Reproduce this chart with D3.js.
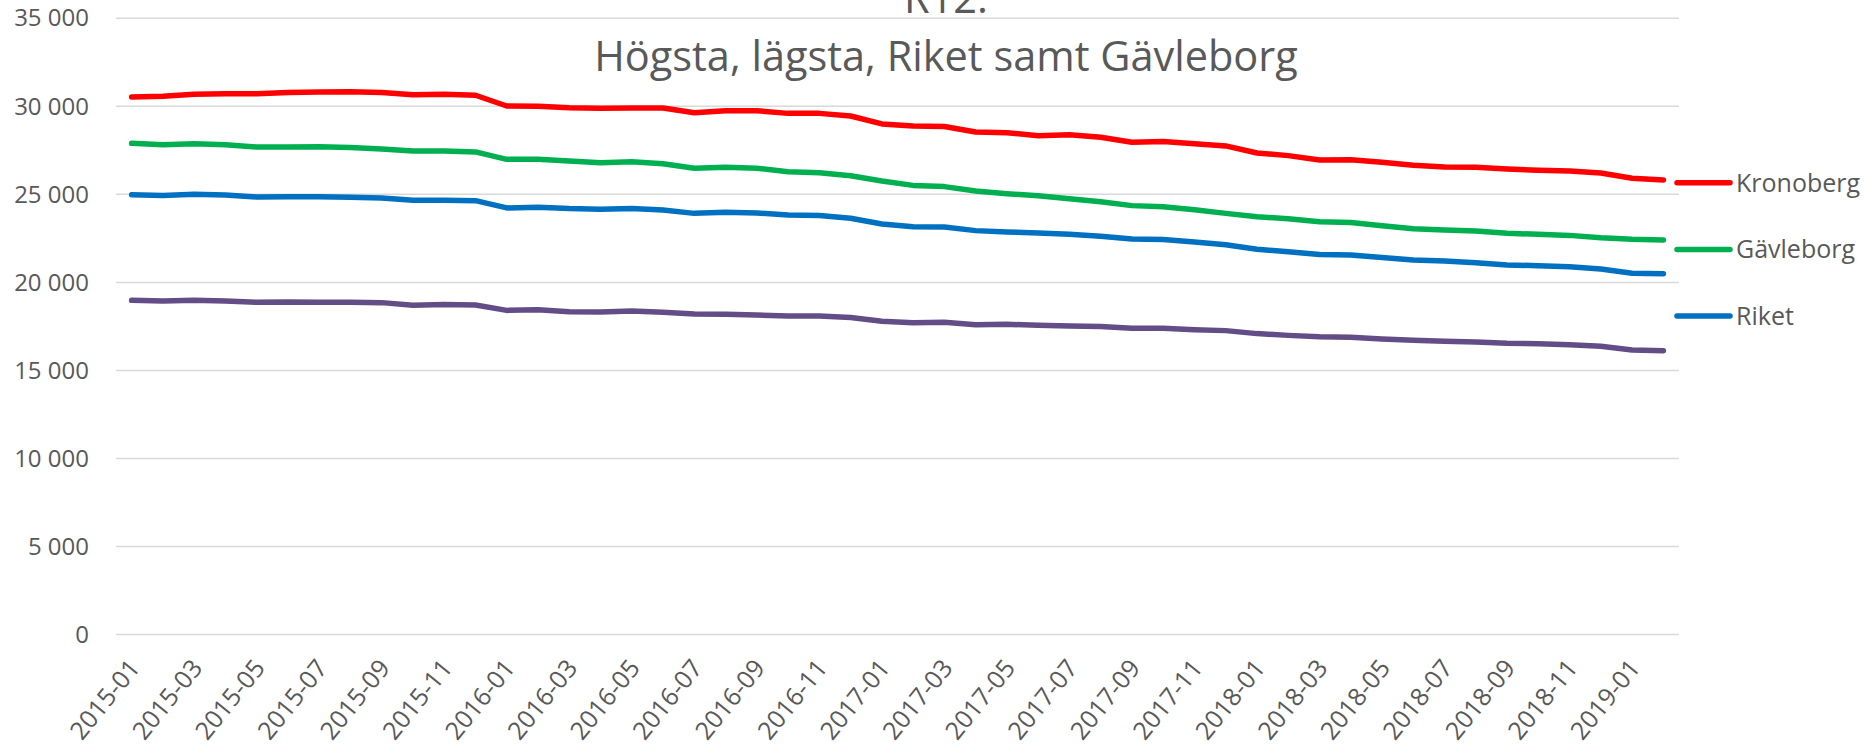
<!DOCTYPE html>
<html>
<head>
<meta charset="utf-8">
<script src="https://cdn.jsdelivr.net/npm/d3@7"></script>
<style>
  html, body { margin: 0; padding: 0; background: #ffffff; }
  svg { display: block; font-family: "Open Sans", sans-serif; }
</style>
</head>
<body>
<svg id="chart" width="1874" height="747"></svg>
<script>
// ---- data ----
const months = [];
for (let y = 2015; y <= 2019; y++) {
  for (let m = 1; m <= 12; m++) {
    if (y === 2019 && m > 2) break;
    months.push(y + "-" + String(m).padStart(2, "0"));
  }
}
const titleLines = ["R12:", "Högsta, lägsta, Riket samt Gävleborg"];
const yTicks = [0, 5000, 10000, 15000, 20000, 25000, 30000, 35000];

const kronoberg = [30530, 30570, 30680, 30720, 30720, 30780, 30810, 30830, 30780, 30660,
  30680, 30630, 30020, 30000, 29920, 29890, 29910, 29910, 29640, 29750,
  29750, 29600, 29600, 29450, 29000, 28880, 28850, 28540, 28500, 28330,
  28380, 28240, 27960, 28000, 27880, 27750, 27350, 27200, 26950, 26960,
  26820, 26650, 26550, 26540, 26440, 26370, 26330, 26210, 25910, 25820];
const gavleborg = [27900, 27820, 27870, 27820, 27690, 27690, 27710, 27660, 27580, 27460,
  27460, 27410, 26990, 26990, 26900, 26800, 26850, 26740, 26480, 26540,
  26480, 26290, 26230, 26060, 25760, 25510, 25440, 25190, 25040, 24920,
  24750, 24580, 24360, 24300, 24130, 23920, 23730, 23620, 23450, 23400,
  23220, 23050, 22980, 22920, 22790, 22730, 22670, 22540, 22450, 22410];
const riket = [24980, 24940, 25000, 24960, 24850, 24870, 24870, 24830, 24790, 24660,
  24660, 24640, 24230, 24270, 24190, 24150, 24190, 24110, 23920, 23980,
  23940, 23830, 23800, 23640, 23320, 23160, 23150, 22940, 22860, 22810,
  22730, 22620, 22470, 22430, 22300, 22140, 21880, 21740, 21590, 21550,
  21410, 21270, 21210, 21120, 20990, 20950, 20890, 20760, 20520, 20490];
const lagsta = [18980, 18940, 18980, 18940, 18870, 18890, 18870, 18870, 18850, 18700,
  18740, 18720, 18410, 18450, 18330, 18320, 18370, 18300, 18200, 18190,
  18150, 18090, 18090, 18000, 17790, 17710, 17730, 17600, 17620, 17560,
  17520, 17500, 17390, 17390, 17310, 17260, 17090, 16990, 16910, 16880,
  16780, 16710, 16650, 16610, 16540, 16520, 16460, 16370, 16160, 16120];

const series = [
  { name: "Kronoberg", values: kronoberg, color: "#ff0000", legend: true },
  { name: "Gävleborg", values: gavleborg, color: "#00b050", legend: true },
  { name: "Riket", values: riket, color: "#0070c0", legend: true },
  { name: "Lägsta", values: lagsta, color: "#634d87", legend: false }
];

// ---- layout ----
const svg = d3.select("#chart");
const plotL = 116, plotR = 1679, plotT = 18.3, plotB = 634.5;

const x = d3.scalePoint().domain(months).range([plotL, plotR]).padding(0.5);
const y = d3.scaleLinear().domain([0, 35000]).range([plotB, plotT]);
const fmt = d3.formatLocale({ decimal: ",", thousands: " ", grouping: [3], currency: ["", " kr"] }).format(",d");

// gridlines
svg.append("g")
  .selectAll("line").data(yTicks).join("line")
  .attr("x1", plotL).attr("x2", plotR)
  .attr("y1", d => y(d)).attr("y2", d => y(d))
  .attr("stroke", "#d9d9d9").attr("stroke-width", 1.5);

// y axis labels
const yAxis = d3.axisLeft(y).tickValues(yTicks).tickFormat(fmt).tickSize(0).tickPadding(27);
const gy = svg.append("g").attr("transform", `translate(${plotL},0)`).call(yAxis);
gy.select(".domain").remove();
gy.selectAll("text").attr("font-family", "Open Sans").attr("font-size", 24).attr("fill", "#595959");

// x axis labels
const xLabels = months.filter((d, i) => i % 2 === 0);
const xAxis = d3.axisBottom(x).tickValues(xLabels).tickSize(0).tickPadding(0);
const gx = svg.append("g").attr("transform", `translate(0,${plotB})`).call(xAxis);
gx.select(".domain").remove();
gx.selectAll("text")
  .attr("font-family", "Open Sans").attr("font-size", 25).attr("fill", "#595959")
  .attr("text-anchor", "end")
  .attr("dy", null)
  .attr("y", 0)
  .attr("transform", "translate(9,34) rotate(-51)");

// lines
const line = d3.line().x((d, i) => x(months[i])).y(d => y(d)).curve(d3.curveLinear);
svg.append("g").selectAll("path").data(series.slice().reverse()).join("path")
  .attr("d", d => line(d.values))
  .attr("fill", "none")
  .attr("stroke", d => d.color)
  .attr("stroke-width", 5.5)
  .attr("stroke-linejoin", "round")
  .attr("stroke-linecap", "round");

// legend
const legendItems = series.filter(s => s.legend);
const lg = svg.append("g").selectAll("g").data(legendItems).join("g")
  .attr("transform", (d, i) => `translate(1677,${182.7 + i * 66.7})`);
lg.append("line").attr("x1", 0).attr("x2", 53).attr("y1", 0).attr("y2", 0)
  .attr("stroke", d => d.color).attr("stroke-width", 5.5).attr("stroke-linecap", "round");
lg.append("text").attr("x", 59).attr("y", 0).attr("dy", "0.36em")
  .attr("font-family", "Open Sans").attr("font-size", 25).attr("fill", "#595959")
  .text(d => d.name);

// title
svg.append("g").selectAll("text").data(titleLines).join("text")
  .attr("x", 946).attr("y", (d, i) => 12.7 + i * 58.5)
  .attr("text-anchor", "middle")
  .attr("font-family", "Open Sans").attr("font-size", 41.5).attr("fill", "#595959")
  .text(d => d);
</script>
</body>
</html>
